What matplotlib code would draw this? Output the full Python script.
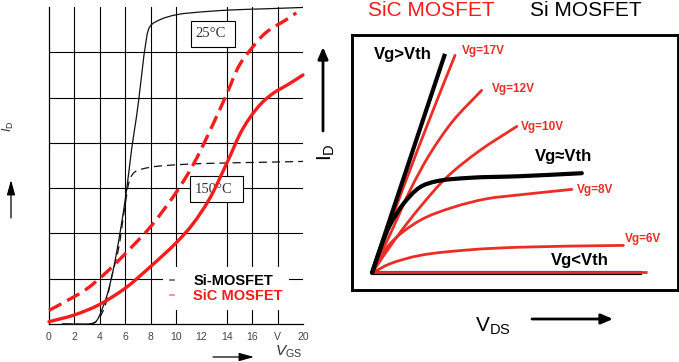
import numpy as np
import matplotlib
matplotlib.use('Agg')
import matplotlib.pyplot as plt
from matplotlib.patches import Rectangle, PathPatch
from matplotlib.path import Path
from matplotlib.lines import Line2D

plt.rcParams['font.family'] = ['Liberation Sans', 'DejaVu Sans']
plt.rcParams['mathtext.fontset'] = 'custom'
plt.rcParams['mathtext.rm'] = 'Liberation Sans'
plt.rcParams['mathtext.it'] = 'Liberation Sans:italic'

# ---------------- left panel data: transfer characteristics (VGS in V, ID in grid units)
vgs_ticks = [0, 2, 4, 6, 8, 10, 12, 14, 16, 18, 20]
vgs_tick_labels = ['0', '2', '4', '6', '8', '10', '12', '14', '16', 'V', '20']
grid_v = [2, 4, 6, 8, 10, 14, 16, 18]
grid_u = [1, 2, 3, 4, 5, 6]

si25_vgs = [1.0, 3.4, 3.65, 3.88, 4.54, 5.06, 5.59, 6.12, 6.51, 6.9, 7.17, 7.4, 7.56,
            7.95, 8.74, 10.05, 12.4, 14.8, 17.0, 20.0]
si25_id = [0.0, 0.01, 0.04, 0.13, 0.61, 1.2, 2.01, 2.98, 3.87, 4.6, 5.2, 5.75, 6.09,
           6.57, 6.72, 6.83, 6.9, 6.94, 6.96, 6.99]

si150_vgs = [1.1, 3.2, 3.55, 3.88, 4.4, 4.94, 5.46, 5.98, 6.38, 6.77, 7.95, 10.3, 13.0, 16.6, 20.0]
si150_id = [0.0, 0.0, 0.03, 0.1, 0.39, 1.05, 1.64, 2.6, 3.2, 3.36, 3.46, 3.52, 3.55, 3.57, 3.59]

sic_hot_vgs = [0.0, 1.32, 2.9, 4.74, 6.58, 8.03, 10.0, 11.32, 12.63, 13.95, 15.0, 16.05,
               17.1, 18.68, 19.47]
sic_hot_id = [0.30, 0.50, 0.76, 1.2, 1.72, 2.16, 2.9, 3.5, 4.24, 5.05, 5.72, 6.12,
              6.44, 6.72, 6.87]

sic_cold_vgs = [0.0, 2.0, 3.9, 6.0, 8.0, 10.0, 11.3, 12.63, 14.03, 15.26, 16.58, 17.63,
                18.95, 20.0]
sic_cold_id = [0.05, 0.2, 0.42, 0.79, 1.27, 1.79, 2.2, 2.76, 3.57, 4.31, 4.83, 5.09,
               5.31, 5.5]

legend_labels = ['Si-MOSFET', 'SiC MOSFET']

# ---------------- right panel data: output characteristics (arbitrary units)
vgt_vds = [0.0, 3.65]
vgt_id = [0.0, 10.96]
vg17_vds = [0.0, 1.5, 3.0, 4.15]
vg17_id = [0.0, 4.1, 8.0, 10.88]
vg12_vds = [0.0, 1.07, 1.9, 2.9, 4.07, 5.48]
vg12_id = [0.0, 2.29, 4.13, 5.96, 7.63, 9.13]
vg10_vds = [0.0, 1.23, 2.4, 3.74, 5.4, 7.24]
vg10_id = [0.0, 1.79, 3.29, 4.79, 6.13, 7.33]
vth_vds = [0.0, 0.5, 0.9, 1.57, 2.4, 3.24, 4.9, 7.4, 10.49]
vth_id = [0.0, 1.45, 2.4, 3.46, 4.29, 4.59, 4.76, 4.84, 4.99]
vg8_vds = [0.0, 0.9, 2.4, 4.07, 5.73, 7.4, 9.99]
vg8_id = [0.0, 1.46, 2.63, 3.29, 3.71, 3.91, 4.18]
vg6_vds = [0.0, 0.9, 2.4, 4.9, 7.4, 12.57]
vg6_id = [0.0, 0.46, 0.88, 1.16, 1.29, 1.38]
vlt_vds = [0.0, 13.5]
vlt_id = [0.0, 0.0]
vgoff_vds = [0.0, 13.74]
vgoff_id = [0.04, 0.04]

W, H = 679, 362
fig = plt.figure(figsize=(W / 100, H / 100), dpi=100)


def fx(x):
    return x / W


def fy(y):
    return 1 - y / H


def smooth(ax, xs, ys, **kw):
    """Draw a centripetal Catmull-Rom curve through the data points as Bezier path."""
    P = ax.transData.transform(np.column_stack([xs, ys]))
    n = len(P)
    ext = np.vstack([2 * P[0] - P[1], P, 2 * P[-1] - P[-2]])
    verts = [P[0]]
    codes = [Path.MOVETO]
    for i in range(n - 1):
        p0, p1, p2, p3 = ext[i], ext[i + 1], ext[i + 2], ext[i + 3]
        d1 = max(np.linalg.norm(p1 - p0) ** 0.5, 1e-6)
        d2 = max(np.linalg.norm(p2 - p1) ** 0.5, 1e-6)
        d3 = max(np.linalg.norm(p3 - p2) ** 0.5, 1e-6)
        b1 = (d1 ** 2 * p2 - d2 ** 2 * p0 + (2 * d1 ** 2 + 3 * d1 * d2 + d2 ** 2) * p1) / (3 * d1 * (d1 + d2))
        b2 = (d3 ** 2 * p1 - d2 ** 2 * p3 + (2 * d3 ** 2 + 3 * d3 * d2 + d2 ** 2) * p2) / (3 * d3 * (d3 + d2))
        verts += [b1, b2, p2]
        codes += [Path.CURVE4] * 3
    verts = ax.transData.inverted().transform(np.array(verts))
    patch = PathPatch(Path(verts, codes), fill=False, **kw)
    ax.add_patch(patch)
    return patch


RED = '#f51c1c'
RED2 = '#ec2d26'

# ================= left panel
ax1 = fig.add_axes([fx(49), fy(324), (303 - 49) / W, (324 - 7) / H])
ax1.set_xlim(0, 20)
ax1.set_ylim(0, 7)
for s in ['top', 'right']:
    ax1.spines[s].set_visible(False)
for s in ['left', 'bottom']:
    ax1.spines[s].set_linewidth(0.9)
for v in grid_v:
    ax1.axvline(v, color='k', lw=0.8, zorder=1)
for u in grid_u:
    ax1.axhline(u, color='k', lw=0.8, zorder=1)
ax1.set_xticks(vgs_ticks)
ax1.set_xticklabels(vgs_tick_labels)
ax1.set_yticks([])
ax1.tick_params(axis='x', length=0, pad=6, labelsize=7.5, labelcolor='#444')

ax1.add_patch(Rectangle((11.2, 6.11), 3.45, 0.58, fc='white', ec='k', lw=0.8, zorder=2))
ax1.text(11.5, 6.41, '25°C', family='Liberation Serif', fontsize=10.5, color='#333',
         va='center', ha='left', zorder=2.5)
ax1.add_patch(Rectangle((11.1, 2.69), 4.18, 0.58, fc='white', ec='k', lw=0.8, zorder=2))
ax1.text(11.5, 2.98, '150°C', family='Liberation Serif', fontsize=10.5, color='#333',
         va='center', ha='left', zorder=2.5)

smooth(ax1, si25_vgs, si25_id, edgecolor='#111', lw=0.9, zorder=3, clip_on=False)
smooth(ax1, si150_vgs, si150_id, edgecolor='#111', lw=0.9, linestyle=(0, (6.5, 4)),
       zorder=3, clip_on=False)
smooth(ax1, sic_cold_vgs, sic_cold_id, edgecolor=RED, lw=2.4, zorder=4, clip_on=False,
       capstyle='round')
smooth(ax1, sic_hot_vgs, sic_hot_id, edgecolor=RED, lw=2.4, linestyle=(0, (4.2, 2.0)),
       zorder=4, clip_on=False)

handles = [Line2D([0], [0], color='#666', lw=1.2), Line2D([0], [0], color='#ff8080', lw=1.2)]
leg = ax1.legend(handles=handles, labels=legend_labels, loc='lower left',
                 bbox_to_anchor=(0.45, 0.044), frameon=True, facecolor='white',
                 edgecolor='none', framealpha=1, fancybox=False,
                 prop={'weight': 'bold', 'size': 10.5}, handlelength=0.3,
                 handletextpad=1.3, borderpad=0.45, labelspacing=0.1, borderaxespad=0)
for t, c in zip(leg.get_texts(), ['black', RED]):
    t.set_color(c)

fig.text(fx(8), fy(126), r'$\mathit{I}_\mathrm{D}$', rotation=90, fontsize=9,
         color='#333', ha='center', va='center')
fig.text(fx(275), fy(352), r'$\mathit{V}_\mathrm{GS}$', fontsize=11, color='#333',
         ha='left', va='center')
ax1.annotate('', xy=(11, H - 180), xytext=(11, H - 218), xycoords='figure pixels',
             textcoords='figure pixels', annotation_clip=False,
             arrowprops=dict(arrowstyle='-|>,head_length=0.9,head_width=0.25', lw=0.9,
                             color='k', shrinkA=0, shrinkB=0))
ax1.annotate('', xy=(254, H - 357), xytext=(213, H - 357), xycoords='figure pixels',
             textcoords='figure pixels', annotation_clip=False,
             arrowprops=dict(arrowstyle='-|>,head_length=0.9,head_width=0.25', lw=0.9,
                             color='k', shrinkA=0, shrinkB=0))

# ================= right panel
ax2 = fig.add_axes([fx(352), fy(289.5), (677.5 - 352) / W, (289.5 - 34.5) / H])
ax2.set_xlim(-1.0, 15.275)
ax2.set_ylim(-0.825, 11.925)
ax2.set_xticks([])
ax2.set_yticks([])
for s in ax2.spines.values():
    s.set_linewidth(2.1)

for xs, ys in [(vg17_vds, vg17_id), (vg12_vds, vg12_id), (vg10_vds, vg10_id),
               (vg8_vds, vg8_id), (vg6_vds, vg6_id)]:
    smooth(ax2, xs, ys, edgecolor=RED2, lw=2.0, zorder=3, capstyle='round')
ax2.plot(vlt_vds, vlt_id, color='k', lw=3.0, zorder=3.5, solid_capstyle='butt')
ax2.plot(vgoff_vds, vgoff_id, color=RED2, lw=2.0, zorder=3.6, solid_capstyle='butt')
ax2.plot(vgt_vds, vgt_id, color='k', lw=3.0, zorder=4, solid_capstyle='butt')
smooth(ax2, vth_vds, vth_id, edgecolor='k', lw=3.0, zorder=4, capstyle='round')

ax2.text(1.53, 10.9, 'Vg>Vth', fontsize=12, fontweight='bold', ha='center', va='center')
ax2.text(9.57, 5.83, 'Vg≈Vth', fontsize=12, fontweight='bold', ha='center', va='center')
ax2.text(10.38, 0.63, 'Vg<Vth', fontsize=12, fontweight='bold', ha='center', va='center')
ax2.text(4.5, 11.12, 'Vg=17V', fontsize=8.5, fontweight='bold', color=RED2, ha='left', va='center')
ax2.text(5.98, 9.22, 'Vg=12V', fontsize=8.5, fontweight='bold', color=RED2, ha='left', va='center')
ax2.text(7.43, 7.32, 'Vg=10V', fontsize=8.5, fontweight='bold', color=RED2, ha='left', va='center')
ax2.text(10.23, 4.17, 'Vg=8V', fontsize=8.5, fontweight='bold', color=RED2, ha='left', va='center')
ax2.text(12.65, 1.72, 'Vg=6V', fontsize=8.5, fontweight='bold', color=RED2, ha='left', va='center')

fig.text(fx(368), fy(10), 'SiC MOSFET', color=RED, fontsize=15, ha='left', va='center')
fig.text(fx(530), fy(10), 'Si MOSFET', color='black', fontsize=15, ha='left', va='center')
fig.text(fx(326), fy(152), r'$\mathrm{I_D}$', rotation=90, fontsize=15, ha='center', va='center')
fig.text(fx(493), fy(326), r'$\mathrm{V_{DS}}$', fontsize=15, ha='center', va='center')

ax2.annotate('', xy=(323, H - 47), xytext=(323, H - 131), xycoords='figure pixels',
             textcoords='figure pixels', annotation_clip=False,
             arrowprops=dict(arrowstyle='-|>,head_length=0.7,head_width=0.3', lw=2.0,
                             color='k', shrinkA=0, shrinkB=0))
ax2.annotate('', xy=(613, H - 319), xytext=(532, H - 319), xycoords='figure pixels',
             textcoords='figure pixels', annotation_clip=False,
             arrowprops=dict(arrowstyle='-|>,head_length=0.7,head_width=0.3', lw=2.0,
                             color='k', shrinkA=0, shrinkB=0))

fig.savefig('out.png', dpi=100)
